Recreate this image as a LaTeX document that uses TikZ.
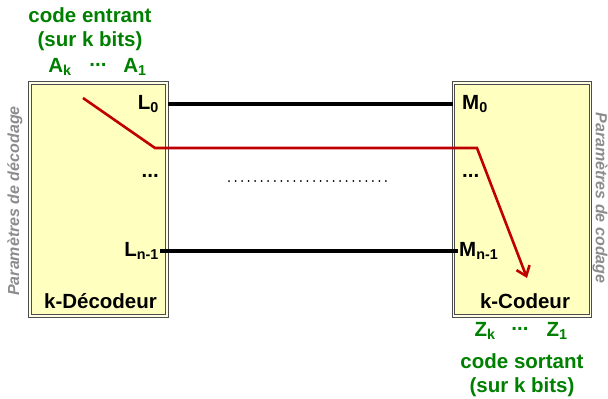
\documentclass[tikz,border=0pt]{standalone}
\usepackage{fontspec}
\setmainfont{Liberation Sans}
\usepackage{tikz}
\usetikzlibrary{arrows.meta,positioning}
\definecolor{cdgreen}{RGB}{0,128,0}
\definecolor{cdred}{RGB}{192,0,0}
\definecolor{cdyellow}{RGB}{255,255,192}
\definecolor{cdgray}{RGB}{140,140,140}

\begin{document}
\begin{tikzpicture}[x=1pt,y=-1pt,
    bigfont/.style={font=\fontsize{20.5}{24}\selectfont\bfseries},
    box/.style={draw=black!70, double=cdyellow!40, double distance=1.3pt, line width=1pt,
        fill=cdyellow, minimum width=137pt, minimum height=233pt, inner sep=0pt},
    pin/.style={bigfont, inner sep=1pt},
    green/.style={bigfont, text=cdgreen, align=center, inner sep=0pt},
    param/.style={font=\fontsize{16}{18}\selectfont\itshape\bfseries, text=cdgray},
    wire/.style={line width=3.5pt, black},
    path/.style={line width=2.6pt, cdred}]
  \useasboundingbox (0,0) rectangle (608,399);
  % Decoder
  \node[box] (dec) at (98.5,199.5) {};
  \node[bigfont, anchor=south] (decname) at (100.5,312) {k-Décodeur};
  \node[pin, anchor=east] (L0) at (160,104) {L\textsubscript{0}};
  \node[pin, anchor=east] (Ldots) at (160,176) {...};
  \node[pin, anchor=east] (Ln) at (160,251) {L\textsubscript{n-1}};
  \node[param, rotate=90] (pdec) at (15,201) {Paramètres de décodage};
  % Coder
  \node[box] (cod) at (522,199.5) {};
  \node[bigfont, anchor=south] (codname) at (525,312) {k-Codeur};
  \node[pin, anchor=west] (M0) at (461,104) {M\textsubscript{0}};
  \node[pin, anchor=west] (Mdots) at (461,176) {...};
  \node[pin, anchor=west] (Mn) at (458,251) {M\textsubscript{n-1}};
  \node[param, rotate=-90] (pcod) at (600,198) {Paramètres de codage};
  % Input code
  \node[green] (inlabel) at (90,29) {code entrant\\(sur k bits)};
  \node[green] (Ak) at (60,67) {A\textsubscript{k}};
  \node[green] (Adots) at (98,65) {...};
  \node[green] (A1) at (135,67) {A\textsubscript{1}};
  % Output code
  \node[green] (Zk) at (485,331) {Z\textsubscript{k}};
  \node[green] (Zdots) at (520,329) {...};
  \node[green] (Z1) at (557,331) {Z\textsubscript{1}};
  \node[green] (outlabel) at (522,375) {code sortant\\(sur k bits)};
  % Lines
  \draw[wire] (dec.east |- L0) -- (cod.west |- M0);
  \draw[wire] (Ln.east) -- (Mn.west);
  \coordinate (dotA) at (229,181);
  \coordinate (dotB) at (386,181);
  \draw[line width=2pt, line cap=round, dash pattern=on 0pt off 6.54pt] (dotA) -- (dotB);
  % Selected path
  \coordinate (r0) at (83,98);
  \coordinate (r1) at (155,148);
  \coordinate (r2) at (477,148);
  \coordinate (r3) at (527,278);
  \draw[path, line join=miter, -{Straight Barb[length=9pt,width=14pt]}] (r0) -- (r1) -- (r2) -- (r3);
\end{tikzpicture}
\end{document}
